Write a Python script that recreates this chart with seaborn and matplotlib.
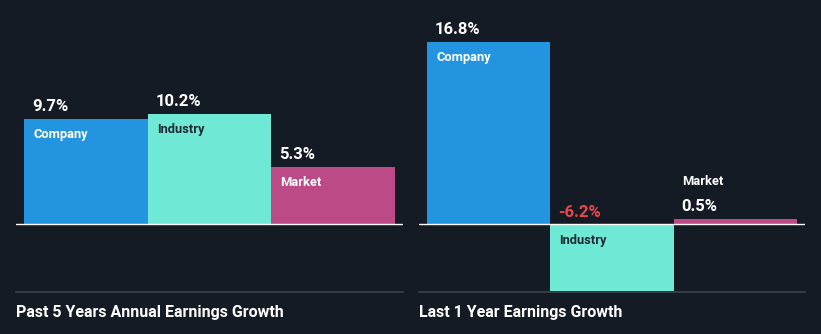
import matplotlib
matplotlib.use("Agg")
import matplotlib.pyplot as plt
import seaborn as sns
import pandas as pd

# ---- data ----
categories = ["Company", "Industry", "Market"]
past5_values = [9.7, 10.2, 5.3]
last1_values = [16.8, -6.2, 0.5]
panel_titles = ["Past 5 Years Annual Earnings Growth", "Last 1 Year Earnings Growth"]

bar_colors = {"Company": "#2394df", "Industry": "#6fe8d5", "Market": "#bb4a87"}
label_colors = {"Company": "#ffffff", "Industry": "#1f2a33", "Market": "#ffffff"}
BG = "#151b24"
NEG = "#e8484c"

sns.set_theme(style="white")
plt.rcParams["font.family"] = ["Roboto", "DejaVu Sans"]

W, H = 821, 334
fig = plt.figure(figsize=(W / 100, H / 100), dpi=100, facecolor=BG)

PX_PER_UNIT = 10.83
ZERO_Y = 224
TOP_Y = 20
BOT_Y = 292
ylim = (-(BOT_Y - ZERO_Y) / PX_PER_UNIT, (ZERO_Y - TOP_Y) / PX_PER_UNIT)

panels = [(16, 403, past5_values, panel_titles[0]),
          (419, 805, last1_values, panel_titles[1])]

PT = 72 / 100  # points per pixel

for x0, x1, vals, title in panels:
    ax = fig.add_axes([x0 / W, (H - BOT_Y) / H, (x1 - x0) / W, (BOT_Y - TOP_Y) / H])
    ax.set_facecolor(BG)
    df = pd.DataFrame({"cat": categories, "val": vals})
    sns.barplot(data=df, x="cat", y="val", hue="cat", palette=bar_colors,
                width=1.0, legend=False, ax=ax, linewidth=0, saturation=1)
    pad = 8 / ((x1 - x0) - 16) * 3
    ax.set_xlim(-0.5 - pad, 2.5 + pad)
    ax.set_ylim(*ylim)
    ax.axhline(0, color="white", lw=1.0, zorder=5)
    for s in ["top", "left", "right"]:
        ax.spines[s].set_visible(False)
    ax.spines["bottom"].set_color("#3c424c")
    ax.spines["bottom"].set_linewidth(1.2)
    ax.set_xticks([])
    ax.set_yticks([])
    ax.set_xlabel("")
    ax.set_ylabel("")

    for i, (c, v) in enumerate(zip(categories, vals)):
        xl = i - 0.5
        vtxt = f"{v:.1f}%"
        hpx = abs(v) * PX_PER_UNIT
        if v >= 0:
            ax.annotate(vtxt, (xl, v), xytext=(8 * PT, 8 * PT), textcoords="offset points",
                        ha="left", va="baseline", color="white", fontsize=12, fontweight="bold")
            if hpx > 30:
                ax.annotate(c, (xl, v), xytext=(9 * PT, -9 * PT), textcoords="offset points",
                            ha="left", va="top", color=label_colors[c], fontsize=9.3, fontweight="bold")
            else:
                ax.annotate(c, (xl, v), xytext=(8 * PT, 34 * PT), textcoords="offset points",
                            ha="left", va="baseline", color="white", fontsize=9.3, fontweight="bold")
        else:
            ax.annotate(vtxt, (xl, 0), xytext=(8 * PT, 7 * PT), textcoords="offset points",
                        ha="left", va="baseline", color=NEG, fontsize=12, fontweight="bold")
            ax.annotate(c, (xl, 0), xytext=(9 * PT, -10 * PT), textcoords="offset points",
                        ha="left", va="top", color=label_colors[c], fontsize=9.3, fontweight="bold")

    fig.text(x0 / W, 1 - 317 / H, title, ha="left", va="baseline", color="white",
             fontsize=11.5, fontweight="bold")

fig.savefig("out.png", dpi=100, facecolor=BG)
